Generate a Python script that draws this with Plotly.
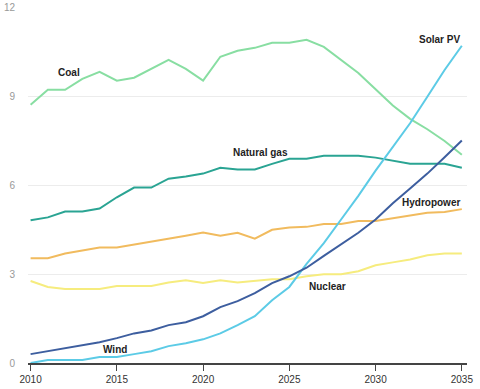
import plotly.graph_objects as go

years = list(range(2010, 2036))

coal = [8.73, 9.23, 9.23, 9.6, 9.84, 9.54, 9.64, 9.94, 10.24, 9.94, 9.54, 10.35, 10.55,
        10.65, 10.82, 10.82, 10.92, 10.68, 10.25, 9.8, 9.25, 8.7, 8.25, 7.9, 7.5, 7.04]
natural_gas = [4.82, 4.92, 5.12, 5.12, 5.22, 5.6, 5.93, 5.93, 6.23, 6.3, 6.4, 6.6, 6.54,
               6.54, 6.73, 6.9, 6.9, 7.0, 7.0, 7.0, 6.94, 6.84, 6.73, 6.73, 6.73, 6.6]
hydropower = [3.54, 3.54, 3.7, 3.8, 3.9, 3.9, 4.0, 4.08, 4.2, 4.3, 4.41, 4.3, 4.4,
              4.2, 4.5, 4.58, 4.6, 4.7, 4.7, 4.8, 4.8, 4.9, 5.0, 5.08, 5.1, 5.2]
nuclear = [2.77, 2.57, 2.5, 2.5, 2.5, 2.6, 2.6, 2.6, 2.72, 2.8, 2.7, 2.8, 2.72,
           2.77, 2.83, 2.83, 2.93, 3.0, 3.0, 3.1, 3.3, 3.4, 3.5, 3.64, 3.7, 3.7]
solar_pv = [0.0, 0.1, 0.1, 0.1, 0.2, 0.2, 0.3, 0.4, 0.57, 0.67, 0.8, 1.0, 1.28,
            1.58, 2.12, 2.57, 3.35, 4.05, 4.85, 5.65, 6.5, 7.3, 8.1, 9.0, 9.9, 10.72]
wind = [0.3, 0.4, 0.5, 0.6, 0.7, 0.84, 1.0, 1.1, 1.28, 1.38, 1.58, 1.89, 2.09,
        2.36, 2.7, 2.93, 3.22, 3.62, 4.02, 4.4, 4.85, 5.4, 5.9, 6.4, 6.95, 7.52]

series = [
    ("Coal", coal, "#88dea2"),
    ("Natural gas", natural_gas, "#2aa493"),
    ("Hydropower", hydropower, "#f1bb5e"),
    ("Nuclear", nuclear, "#f6ec7e"),
    ("Solar PV", solar_pv, "#5ccbe6"),
    ("Wind", wind, "#3d5e9f"),
]

labels = ["Coal", "Natural gas", "Hydropower", "Nuclear", "Wind", "Solar PV"]
label_x = [2012.23, 2023.33, 2033.19, 2027.22, 2014.87, 2035.0]
label_y = [9.81, 7.11, 5.43, 2.6, 0.44, 10.92]
label_anchor = ["center", "center", "center", "center", "center", "right"]

y_ticks = [0, 3, 6, 9, 12]
x_ticks = [2010, 2015, 2020, 2025, 2030, 2035]

fig = go.Figure()
for name, vals, color in series:
    fig.add_trace(go.Scatter(x=years, y=vals, mode="lines", name=name,
                             line=dict(color=color, width=2)))

for t, x, y, a in zip(labels, label_x, label_y, label_anchor):
    fig.add_annotation(x=x, y=y, text="<b>" + t + "</b>", showarrow=False,
                       xanchor=a, yanchor="middle",
                       font=dict(family="Liberation Sans, Arial, sans-serif", size=10, color="#222222"))

fig.update_layout(
    width=480, height=389,
    margin=dict(l=28, r=13, t=7, b=26),
    paper_bgcolor="white", plot_bgcolor="white",
    showlegend=False,
    font=dict(family="Liberation Sans, Arial, sans-serif"),
)
fig.update_xaxes(
    range=[2009.85, 2035.3], tickvals=x_ticks, ticktext=[str(v) for v in x_ticks],
    showgrid=False, zeroline=False, automargin=False,
    showline=True, linecolor="#444444", linewidth=1.5,
    ticks="outside", ticklen=6, tickcolor="#444444", tickwidth=1,
    tickfont=dict(size=10, color="#333333"),
)
fig.update_yaxes(
    range=[0, 12.03], tickvals=y_ticks, automargin=False,
    showgrid=True, gridcolor="#ececec", gridwidth=1, zeroline=False,
    showline=False, ticks="", ticklabelstandoff=12,
    tickfont=dict(size=10, color="#999999"),
)

fig.write_html("out.html", config={"displayModeBar": False},
               post_script="document.body.style.margin='0';document.body.style.overflow='hidden';")
